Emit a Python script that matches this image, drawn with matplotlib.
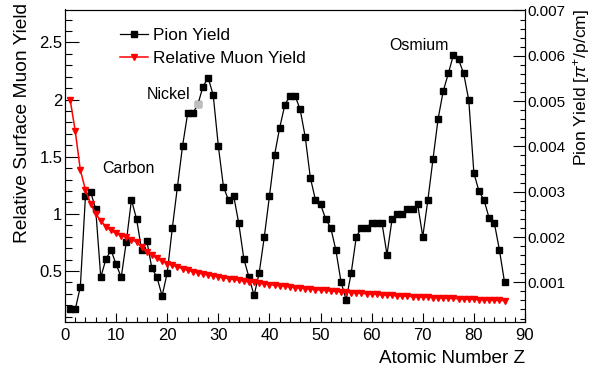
import numpy as np
import matplotlib.pyplot as plt
from matplotlib.ticker import MultipleLocator

plt.rcParams['font.family'] = ['Liberation Sans', 'DejaVu Sans']
plt.rcParams['mathtext.fontset'] = 'custom'
plt.rcParams['mathtext.rm'] = 'Liberation Sans'
plt.rcParams['mathtext.it'] = 'Liberation Sans:italic'

# atomic number Z = 1..86
z = np.arange(1, 87)

# pion yield [pi+/p/cm]
pion_yield = [
    0.00040, 0.00040, 0.00090, 0.00290, 0.00300, 0.00262, 0.00111, 0.00151, 0.00171, 0.00140,
    0.00111, 0.00190, 0.00282, 0.00240, 0.00171, 0.00192, 0.00131, 0.00111, 0.00070, 0.00121,
    0.00220, 0.00311, 0.00401, 0.00473, 0.00473, 0.00493, 0.00532, 0.00552, 0.00513, 0.00401,
    0.00311, 0.00281, 0.00291, 0.00230, 0.00151, 0.00111, 0.00071, 0.00121, 0.00201, 0.00290,
    0.00381, 0.00441, 0.00491, 0.00512, 0.00512, 0.00482, 0.00421, 0.00331, 0.00282, 0.00272,
    0.00240, 0.00220, 0.00171, 0.00101, 0.00061, 0.00121, 0.00201, 0.00220, 0.00220, 0.00232,
    0.00232, 0.00232, 0.00161, 0.00240, 0.00251, 0.00251, 0.00261, 0.00261, 0.00272, 0.00201,
    0.00282, 0.00372, 0.00461, 0.00522, 0.00561, 0.00602, 0.00592, 0.00561, 0.00502, 0.00341,
    0.00301, 0.00281, 0.00241, 0.00231, 0.00171, 0.00100,
]

# relative surface muon yield, left axis
muon_rel = [
    2.000, 1.726, 1.383, 1.210, 1.090, 1.000, 0.940, 0.885, 0.855, 0.828,
    0.810, 0.796, 0.775, 0.753, 0.710, 0.670, 0.640, 0.610, 0.585, 0.565,
    0.550, 0.535, 0.520, 0.505, 0.495, 0.483, 0.474, 0.465, 0.456, 0.448,
    0.440, 0.433, 0.426, 0.419, 0.412, 0.405, 0.399, 0.393, 0.386, 0.380,
    0.375, 0.370, 0.365, 0.360, 0.355, 0.350, 0.345, 0.341, 0.337, 0.333,
    0.329, 0.325, 0.321, 0.318, 0.315, 0.311, 0.307, 0.304, 0.300, 0.297,
    0.294, 0.291, 0.288, 0.286, 0.283, 0.281, 0.278, 0.276, 0.273, 0.271,
    0.269, 0.267, 0.265, 0.263, 0.261, 0.259, 0.257, 0.255, 0.253, 0.251,
    0.249, 0.247, 0.245, 0.243, 0.242, 0.240,
]

labels = [("Carbon", 7.2, 1.40), ("Nickel", 16.0, 2.04), ("Osmium", 63.4, 2.47)]
grey_z = 26

fig = plt.figure(figsize=(5.92, 3.75), dpi=100)
ax = fig.add_axes([65 / 592, 1 - 321.5 / 375, 460 / 592, 312 / 375])
ax2 = ax.twinx()
ax.set_zorder(ax2.get_zorder() + 1)
ax.patch.set_visible(False)

ax2.plot(z, pion_yield, color='black', lw=0.9, marker='s', ms=4.6,
         mec='black', mfc='black')
ax2.plot(grey_z, pion_yield[grey_z - 1], ls='none', marker='s', ms=4.2,
         mec='#bdbdbd', mfc='#bdbdbd')
ax.plot(z, muon_rel, color='red', lw=1.1, marker='v', ms=3.8,
        mec='red', mfc='red')

ax.set_xlim(0, 90)
ax.set_ylim(0.0575, 2.788)
ax2.set_ylim(0.000135, 0.007022)

ax.xaxis.set_major_locator(MultipleLocator(10))
ax.xaxis.set_minor_locator(MultipleLocator(2))
ax.yaxis.set_major_locator(MultipleLocator(0.5))
ax.yaxis.set_minor_locator(MultipleLocator(0.1))
ax2.yaxis.set_major_locator(MultipleLocator(0.001))
ax2.yaxis.set_minor_locator(MultipleLocator(0.0002))

ax.tick_params(axis='x', which='major', direction='in', length=6.5, width=0.8,
               labelsize=12, pad=4.5, top=False)
ax.tick_params(axis='x', which='minor', direction='in', length=3.5, width=0.8, top=False)
ax.tick_params(axis='y', which='major', direction='in', length=10, width=0.8,
               labelsize=12, pad=1.8, right=False)
ax.tick_params(axis='y', which='minor', direction='in', length=5, width=0.8, right=False)
ax2.tick_params(axis='y', which='major', direction='in', length=8.5, width=0.8,
                labelsize=11, pad=1.8)
ax2.tick_params(axis='y', which='minor', direction='in', length=3.6, width=0.8)

ax.yaxis.set_major_formatter(plt.FuncFormatter(lambda v, p: f"{v:g}"))
ax2.yaxis.set_major_formatter(plt.FuncFormatter(lambda v, p: f"{v:.3f}"))

for s in ax.spines.values():
    s.set_linewidth(0.8)
for s in ax2.spines.values():
    s.set_linewidth(0.8)

ax.set_xlabel("Atomic Number Z", fontsize=13.6, loc='right')
ax.xaxis.set_label_coords(1.0, -0.09)
ax.set_ylabel("Relative Surface Muon Yield", fontsize=13.8, loc='top')
ax.yaxis.set_label_coords(-0.074, 1.02)
ax2.set_ylabel(r"Pion Yield [$\pi^{+}$/p/cm]", fontsize=12.6, loc='top')
ax2.yaxis.set_label_coords(1.099, 1.0)

for name, zx, yv in labels:
    ax.text(zx, yv, name, fontsize=11.5, va='center', ha='left')

h1, = ax.plot([], [], color='black', lw=0.9, marker='s', ms=4.6)
h2, = ax.plot([], [], color='red', lw=1.1, marker='v', ms=3.8)
ax.legend([h1, h2], ["Pion Yield", "Relative Muon Yield"], loc='upper left',
          bbox_to_anchor=(0.12, 0.94), frameon=False, fontsize=12.4,
          handlelength=1.6, handletextpad=0.3, labelspacing=0.45,
          borderaxespad=0, borderpad=0)

fig.savefig("out.png", dpi=100)
